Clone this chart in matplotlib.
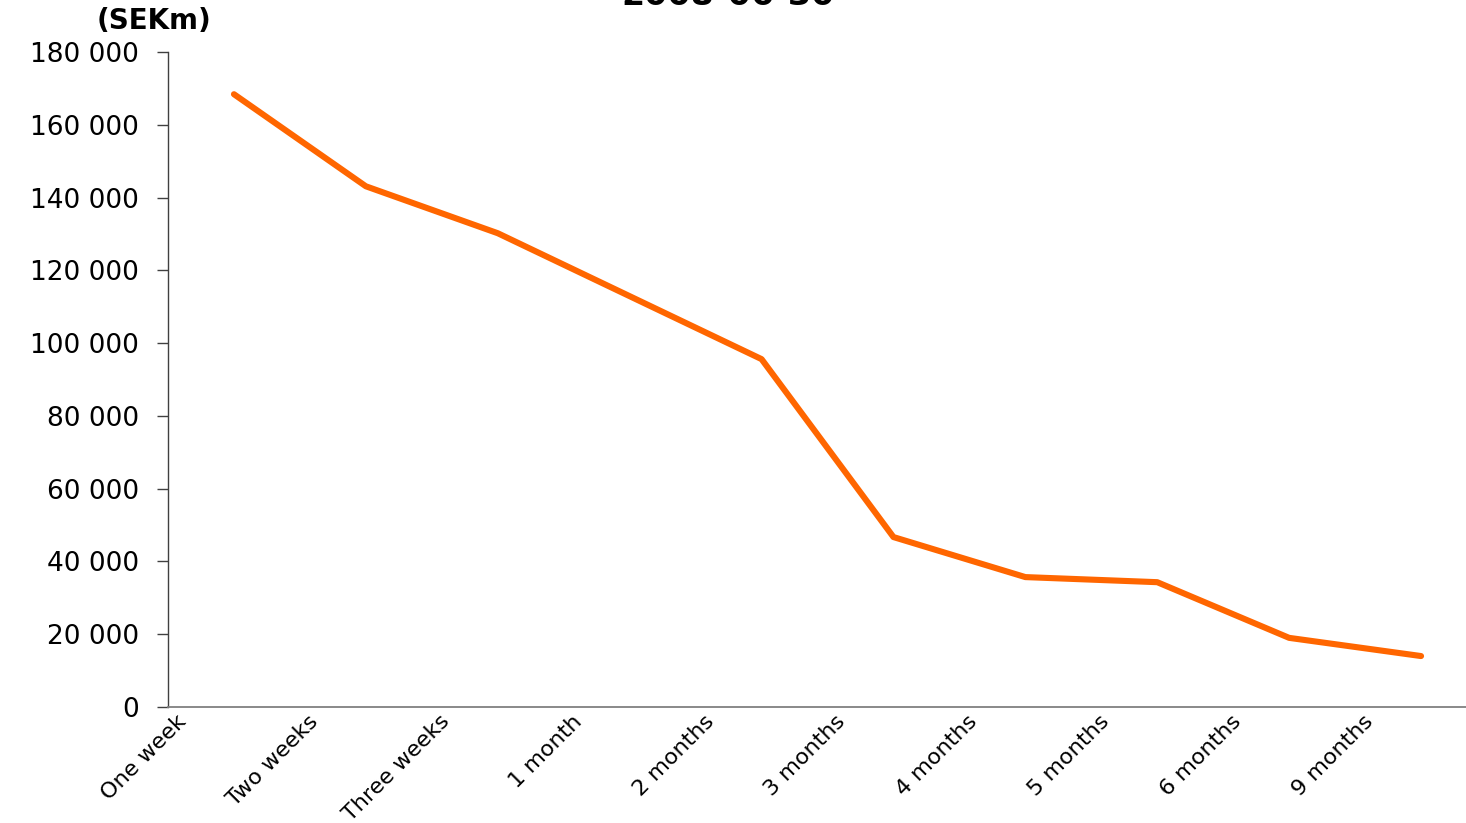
import matplotlib
matplotlib.use("Agg")
import matplotlib.pyplot as plt
from matplotlib.transforms import ScaledTranslation
from matplotlib.ticker import FuncFormatter
import numpy as np

categories = ["One week", "Two weeks", "Three weeks", "1 month", "2 months",
              "3 months", "4 months", "5 months", "6 months", "9 months"]
values = [168400, 143100, 130200, 112900, 95600, 46700, 35700, 34300, 19000, 14000]
yticks = [0, 20000, 40000, 60000, 80000, 100000, 120000, 140000, 160000, 180000]
title = "2008-06-30"
unit_label = "(SEKm)"

W, H = 1466, 823
fig = plt.figure(figsize=(W / 100, H / 100), dpi=100)
fig.patch.set_facecolor("white")

left_px, right_px, bottom_px, top_px = 168, 1487, 707, 52
ax = fig.add_axes([left_px / W, 1 - bottom_px / H,
                   (right_px - left_px) / W, (bottom_px - top_px) / H])

x = np.arange(len(categories))
ax.plot(x, values, color="#FF6600", linewidth=4.4, solid_capstyle="round",
        solid_joinstyle="round", clip_on=False)

ax.set_xlim(-0.5, len(categories) - 0.5)
ax.set_ylim(0, 180000)
ax.set_yticks(yticks)
ax.yaxis.set_major_formatter(FuncFormatter(lambda v, p: f"{int(v):,}".replace(",", " ")))

for s in ["top", "right"]:
    ax.spines[s].set_visible(False)
ax.spines["left"].set_color("#404040")
ax.spines["left"].set_linewidth(1.0)
ax.spines["bottom"].set_color("#808080")
ax.spines["bottom"].set_linewidth(1.3)

ax.tick_params(axis="y", direction="out", length=8, width=1.0, color="#404040",
               pad=13, labelsize=19, labelcolor="black")
ax.tick_params(axis="x", length=0, pad=3, labelsize=16)

ax.set_xticks(x)
ax.set_xticklabels(categories, rotation=45, ha="right", va="top",
                   rotation_mode="anchor")
offset = ScaledTranslation(-0.58, 0, fig.dpi_scale_trans)
for lab in ax.get_xticklabels():
    lab.set_transform(lab.get_transform() + offset)
    lab.set_fontfamily("DejaVu Sans")
for lab in ax.get_yticklabels():
    lab.set_fontfamily("DejaVu Sans")

fig.text(728 / W, 1 - 5 / H, title, ha="center", va="baseline",
         fontsize=24, fontweight="bold", family="DejaVu Sans")
fig.text(154 / W, 1 - 21 / H, unit_label, ha="center", va="center",
         fontsize=20, fontweight="bold", family="DejaVu Sans")

fig.savefig("out.png", dpi=100, facecolor="white")
